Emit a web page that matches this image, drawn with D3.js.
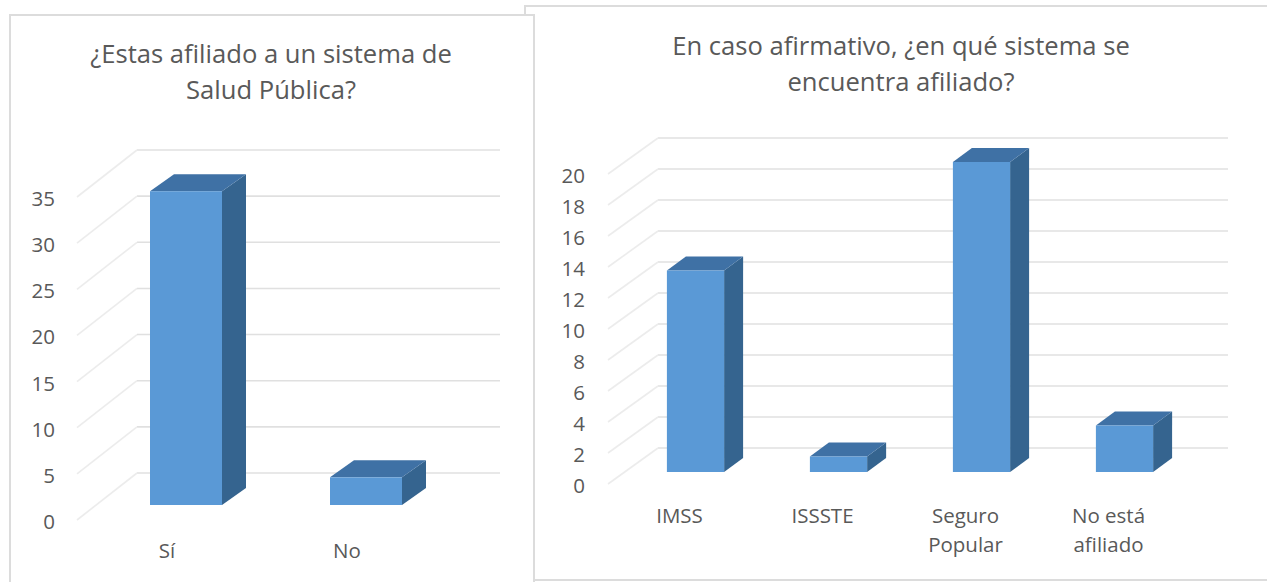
<!DOCTYPE html>
<html><head><meta charset="utf-8">
<script src="https://cdnjs.cloudflare.com/ajax/libs/d3/7.8.5/d3.min.js"></script>
<style>html,body{margin:0;background:#fff}svg{display:block}text{font-family:"Open Sans",sans-serif;fill:#595959}</style>
</head><body><svg id="c" width="1267" height="582"></svg>
<script>
const leftCategories = ["Sí", "No"];
const leftValues = [34, 3];
const leftTicks = [0, 5, 10, 15, 20, 25, 30, 35];
const leftTitle = ["¿Estas afiliado a un sistema de", "Salud Pública?"];
const rightCategories = [["IMSS"], ["ISSSTE"], ["Seguro", "Popular"], ["No está", "afiliado"]];
const rightValues = [13, 1, 20, 3];
const rightTicks = [0, 2, 4, 6, 8, 10, 12, 14, 16, 18, 20];
const rightTitle = ["En caso afirmativo, ¿en qué sistema se", "encuentra afiliado?"];

const svg = d3.select("#c");
function chart(o) {
  const g = svg.append("g");
  g.append("rect").attr("x", o.box[0]).attr("y", o.box[1]).attr("width", o.box[2]).attr("height", o.box[3])
    .attr("fill", "#fff").attr("stroke", "#dcdcdc").attr("stroke-width", 2);
  o.title.forEach((t, i) => g.append("text").attr("x", o.titleX).attr("y", o.titleY + i * o.titleLead)
    .attr("text-anchor", "middle").attr("font-size", o.titleSize).text(t));
  const yMax = o.ticks[o.ticks.length - 1];
  // three parallel planes share the same unit scale
  const back = d3.scaleLinear().domain([0, yMax]).range([o.back0, o.backTop]);
  const front = v => back(v) + o.wallDy;
  const bar = v => back(v) + o.barDy;
  const x = d3.scaleBand().domain(d3.range(o.cats.length)).range(o.xRange).paddingInner(o.pad).paddingOuter(o.pad / 2);
  o.ticks.forEach(t => {
    g.append("line").attr("x1", o.wallX1).attr("x2", o.gridEnd).attr("y1", back(t)).attr("y2", back(t))
      .attr("stroke", "#e0e0e0").attr("stroke-width", 1.6);
    g.append("line").attr("x1", o.wallX0).attr("x2", o.wallX1).attr("y1", front(t)).attr("y2", back(t))
      .attr("stroke", "#ececec").attr("stroke-width", 1.6);
    g.append("text").attr("x", o.tickX).attr("y", front(t) + o.tickOff).attr("text-anchor", "end")
      .attr("font-size", o.fontSize).text(t);
  });
  o.values.forEach((v, i) => {
    const x0 = x(i), x1 = x0 + x.bandwidth(), b = bar(0), t = bar(v), dx = o.dx, dy = o.dy;
    g.append("path").attr("fill", "#35648f").attr("d", `M${x1},${b}L${x1 + dx},${b - dy}L${x1 + dx},${t - dy}L${x1},${t}Z`);
    g.append("path").attr("fill", "#3f71a5").attr("d", `M${x0},${t}L${x0 + dx},${t - dy}L${x1 + dx},${t - dy}L${x1},${t}Z`);
    g.append("rect").attr("x", x0).attr("y", t).attr("width", x.bandwidth()).attr("height", b - t).attr("fill", "#5a99d6");
    [].concat(o.cats[i]).forEach((l, k) => g.append("text").attr("x", x0 + x.bandwidth() / 2 + o.labelDx)
      .attr("y", o.labelY + k * o.labelLead).attr("text-anchor", "middle").attr("font-size", o.fontSize).text(l));
  });
}
chart({ box: [525, 6, 800, 574], title: rightTitle, titleX: 901, titleY: 55, titleLead: 36, titleSize: 25.6,
  ticks: rightTicks, cats: rightCategories, values: rightValues, fontSize: 20.5,
  back0: 448, backTop: 138, wallDy: 36, barDy: 24, wallX0: 608, wallX1: 658, gridEnd: 1228, tickX: 585, tickOff: 9,
  xRange: [624, 1196], pad: 0.6, dx: 19, dy: 14, labelDx: -16, labelY: 523, labelLead: 29 });
chart({ box: [10, 15, 524, 600], title: leftTitle, titleX: 271, titleY: 63, titleLead: 36, titleSize: 25.6,
  ticks: leftTicks, cats: leftCategories, values: leftValues, fontSize: 20.5,
  back0: 473, backTop: 150, wallDy: 47, barDy: 32, wallX0: 77, wallX1: 137, gridEnd: 500, tickX: 55, tickOff: 9,
  xRange: [96, 456], pad: 0.6, dx: 24, dy: 17, labelDx: -19, labelY: 558, labelLead: 29 });
</script></body></html>
